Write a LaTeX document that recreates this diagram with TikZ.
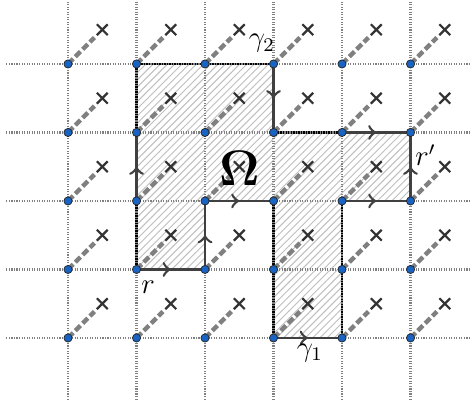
\documentclass[tikz,border=0pt]{standalone}
\usepackage{amsmath,amsfonts}
\usepackage{tikz}
\usetikzlibrary{patterns,decorations.markings,shapes.misc}
\definecolor{dotblue}{RGB}{25,100,195}

\begin{document}
\begin{tikzpicture}[
    griddot/.style={circle,draw=black!85,fill=dotblue,line width=0.3pt,inner sep=0pt,minimum size=3.4pt},
    gridline/.style={gray,line width=0.9pt,dash pattern=on 0.45pt off 0.6pt},
    edge/.style={black,line width=1.1pt},
    flow/.style={black!75,line width=0.9pt,postaction={decorate},
        decoration={markings,mark=at position 0.5 with {\arrow[scale=1.2]{>}}}},
    cutline/.style={gray,line width=1.8pt,dash pattern=on 3pt off 1.3pt,shorten >=1.4pt},
    xmark/.style={cross out,draw=black!80,line width=0.9pt,inner sep=0pt,minimum size=3.6pt}]
    \useasboundingbox (-0.993,-0.978) rectangle (5.883,4.934);

    \foreach \i in {0,...,5}
      \foreach \j in {0,...,4}
        \coordinate (p\i\j) at (\i,\j);

    \fill[pattern=north east lines,pattern color=gray!50]
      (p14) -- (p34) -- (p33) -- (p53) -- (p52) -- (p42) -- (p40) -- (p30)
      -- (p32) -- (p22) -- (p21) -- (p11) -- cycle;
    \draw[edge]
      (p14) -- (p34) -- (p33) -- (p53) -- (p52) -- (p42) -- (p40) -- (p30)
      -- (p32) -- (p22) -- (p21) -- (p11) -- cycle;

    \foreach \j in {0,...,4}
      \draw[gridline] (-0.9,\j) -- (5.9,\j);
    \foreach \i in {0,...,5}
      \draw[gridline] (\i,-0.9) -- (\i,4.9);

    \draw[flow] (p30) -- (p40);
    \draw[flow] (p11) -- (p21);
    \draw[flow] (p21) -- (p22);
    \draw[flow] (p22) -- (p32);
    \draw[flow] (p12) -- (p13);
    \draw[flow] (p34) -- (p33);
    \draw[flow] (p43) -- (p53);
    \draw[flow] (p52) -- (p53);
    \draw[flow] (p42) -- (p52);

    \foreach \i in {0,...,5}
      \foreach \j in {0,...,4} {
        \node[xmark] (x\i\j) at (\i+0.5,\j+0.5) {};
        \draw[cutline] (p\i\j) -- (x\i\j);
        \node[griddot] (d\i\j) at (p\i\j) {};
      }

    \node (g1) at (3.53,-0.22) {\large $\gamma_1$};
    \node (g2) at (2.83,4.3) {\large $\gamma_2$};
    \node (r) at (1.17,0.74) {\large $r$};
    \node (rp) at (5.22,2.67) {\large $r'$};
    \node (om) at (2.51,2.48) {\huge $\boldsymbol{\Omega}$};
\end{tikzpicture}
\end{document}
